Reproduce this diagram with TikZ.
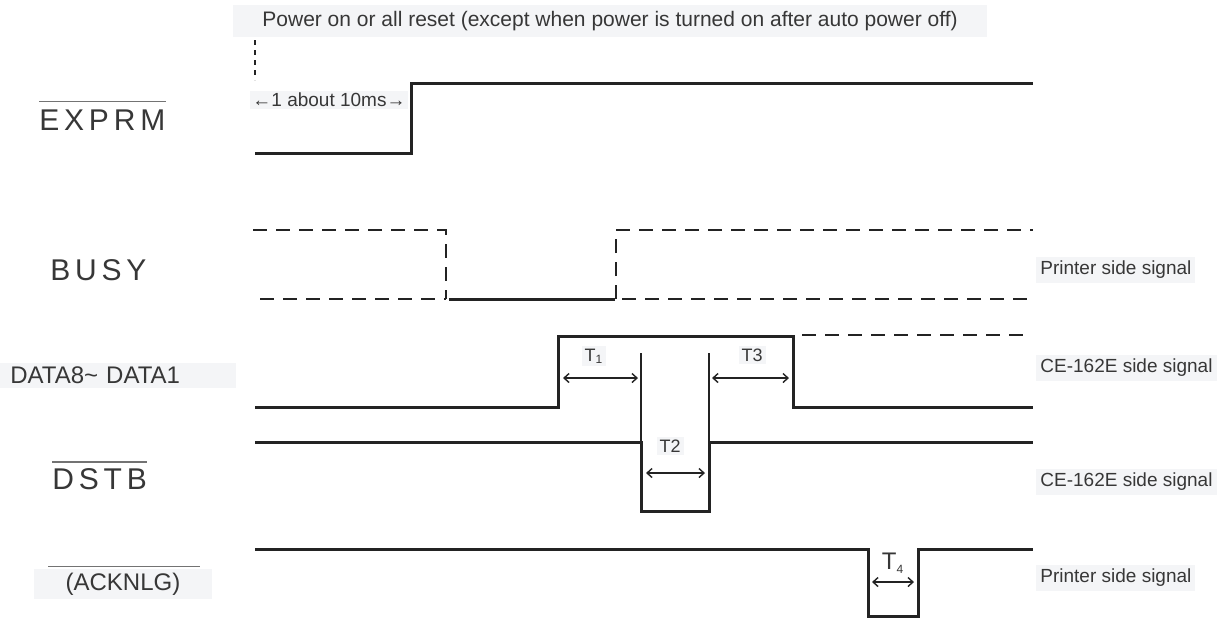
\documentclass[tikz,border=0pt]{standalone}
\usepackage{fontspec}
\setmainfont{Liberation Sans}
\newfontfamily\signalfont[LetterSpace=16]{Liberation Sans}
\usetikzlibrary{arrows.meta}
\definecolor{inkgray}{RGB}{35,35,35}
\definecolor{textgray}{RGB}{55,55,55}
\definecolor{notefill}{RGB}{244,245,247}
\tikzset{
  font=\fontsize{9.5}{11}\selectfont,
  wave/.style={draw=inkgray,line width=1.5pt,line join=miter},
  ghost/.style={draw=inkgray,line width=1.1pt,dash pattern=on 7pt off 4.5pt},
  marker/.style={draw=inkgray,line width=0.7pt},
  span/.style={
    {Straight Barb[length=2.5pt,width=4.5pt]}-{Straight Barb[length=2.5pt,width=4.5pt]},
    draw=inkgray,
    line width=0.7pt
  },
  signame/.style={
    font=\signalfont\fontsize{15}{17}\selectfont,
    text=textgray,
    inner sep=0pt,
    anchor=west
  },
  plainname/.style={
    font=\fontsize{12}{14}\selectfont,
    text=textgray,
    fill=notefill,
    inner ysep=2pt
  },
  sideinfo/.style={fill=notefill,text=textgray,inner xsep=2pt,inner ysep=2pt,anchor=west},
  tlabel/.style={fill=notefill,text=textgray,inner sep=1.5pt,font=\fontsize{9}{10}\selectfont},
  bar/.style={draw=textgray!70,line width=0.6pt}
}

\begin{document}
\begin{tikzpicture}[x=0.5pt,y=-0.5pt]

  \useasboundingbox[fill=white] (0,0) rectangle (1218,618);

  \node[fill=notefill,text=textgray,font=\fontsize{10.5}{12}\selectfont,
        inner xsep=14.5pt,inner ysep=3pt,anchor=west] at (233,21) (title) {
    Power on or all reset (except when power is turned on after auto power off)
  };

  % signal names
  \node[signame] at (39,120) (exprm) {EXPRM};
  \node[signame] at (50,270) (busy) {BUSY};
  \node[plainname,anchor=west,inner xsep=5pt,text width=108pt,align=left] at (0,375) (data) {DATA8\char`~\ DATA1};
  \node[signame] at (52,479) (dstb) {DSTB};
  \node[plainname,inner xsep=16pt] at (123,584) (acknlg) {(ACKNLG)};

  \draw[bar] ([yshift=4pt]exprm.north west) -- ([yshift=4pt]exprm.north east);
  \draw[bar] ([yshift=3pt]dstb.north west) -- ([yshift=3pt]dstb.north east);
  \draw[bar] ([xshift=7.5pt,yshift=1pt]acknlg.north west) -- ([xshift=-6.5pt,yshift=1pt]acknlg.north east);

  \node[sideinfo] at (1036,270) (busyside) {Printer side signal};
  \node[sideinfo] at (1036,368) (dataside) {CE-162E side signal};
  \node[sideinfo] at (1036,482) (dstbside) {CE-162E side signal};
  \node[sideinfo] at (1036,578) (ackside) {Printer side signal};

  % EXPRM
  \draw[ghost,dash pattern=on 2.5pt off 2.5pt] (255,40) -- (255,80);
  \draw[wave] (255,153) -- (411,153) -- (411,83) -- (1033,83);
  \coordinate (pwr) at (250,100);
  \coordinate (rise) at (408,100);
  \draw[marker,{Latex[length=3pt,width=3pt]}-{Latex[length=3pt,width=3pt]}] (pwr) -- (rise)
    node[midway,fill=notefill,text=textgray,inner sep=1pt] (delay) {←1 about 10ms→};

  % BUSY
  \draw[ghost] (253,230) -- (446,230) -- (446,299);
  \draw[ghost] (260,299) -- (446,299);
  \draw[wave] (449,299) -- (615,299);
  \draw[ghost] (616,299) -- (616,230) -- (1033,230);
  \draw[ghost] (622,299) -- (1030,299);

  % DATA8~DATA1
  \draw[wave] (255,407) -- (558,407) -- (558,336) -- (793,336) -- (793,407) -- (1033,407);
  \draw[ghost] (802,335) -- (1030,335);

  % DSTB
  \draw[wave] (255,442) -- (641,442) -- (641,511) -- (709,511) -- (709,442) -- (1033,442);
  \draw[marker] (641,353) -- (641,442);
  \draw[marker] (709,353) -- (709,442);

  % ACKNLG
  \draw[wave] (255,549) -- (868,549) -- (868,616) -- (918,616) -- (918,549) -- (1033,549);

  % timing spans
  \coordinate (t1a) at (563,378);
  \coordinate (t1b) at (638,378);
  \coordinate (t3a) at (712,378);
  \coordinate (t3b) at (789,378);
  \coordinate (t2a) at (646,473);
  \coordinate (t2b) at (705,473);
  \coordinate (t4a) at (872,582);
  \coordinate (t4b) at (914,582);
  \draw[span] (t1a) -- (t1b);
  \draw[span] (t3a) -- (t3b);
  \draw[span] (t2a) -- (t2b);
  \draw[span] (t4a) -- (t4b);

  \node[tlabel] at (594,356) (t1) {T\textsubscript{1}};
  \node[tlabel] at (752,355) (t3) {T3};
  \node[tlabel] at (670,446) (t2) {T2};
  \node[tlabel,font=\fontsize{12}{13}\selectfont,fill=none] at (893,563) (t4) {T\textsubscript{\fontsize{6}{7}\selectfont 4}};

\end{tikzpicture}
\end{document}
